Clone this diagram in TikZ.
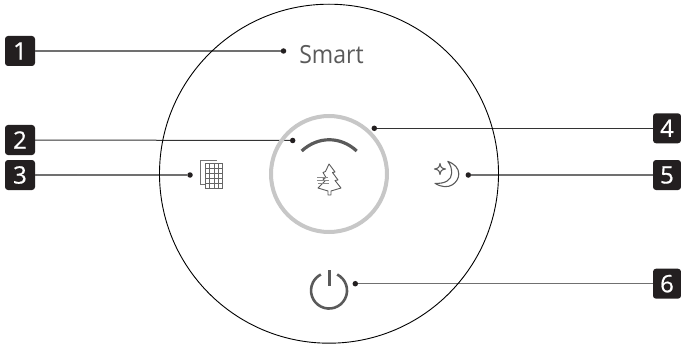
\documentclass[tikz,border=0pt]{standalone}
\usepackage{fontspec}
\setmainfont{Open Sans}
\newfontface\digitface[FakeBold=0.6]{Open Sans}
\definecolor{badgeblack}{HTML}{231F20}
\definecolor{icon}{HTML}{5A5A5A}
\definecolor{leaderdark}{HTML}{333333}
\definecolor{leadergray}{HTML}{707070}
\tikzset{
  badge/.style={fill=badgeblack,rounded corners=3pt,minimum height=30pt,minimum width=30pt,inner sep=0pt,text=white,font=\digitface\fontsize{24}{24}\selectfont},
  rbadge/.style={badge,minimum width=28pt},
  dotmark/.style={circle,fill=badgeblack,minimum size=5.5pt,inner sep=0pt},
  leaderd/.style={draw=leaderdark,line width=1pt},
  leaderg/.style={draw=leadergray,line width=1.3pt},
  iconline/.style={draw=icon,line width=1.1pt,line join=round},
}
\begin{document}
\begin{tikzpicture}[x=1pt,y=-1pt]
\useasboundingbox (0,0) rectangle (681,345);
% badges
\node[badge] (b1) at (20,51) {1};
\node[badge] (b2) at (20,140) {2};
\node[badge] (b3) at (20,175) {3};
\node[rbadge] (b4) at (667,128.3) {4};
\node[rbadge] (b5) at (667,175) {5};
\node[rbadge] (b6) at (667,283.7) {6};
% dots
\node[dotmark] (d1) at (283.5,51) {};
\node[dotmark] (d2) at (292.7,140.5) {};
\node[dotmark] (d3) at (190,175) {};
\node[dotmark] (d4) at (374.3,128.3) {};
\node[dotmark] (d5) at (468.3,175) {};
\node[dotmark] (d6) at (355.3,283.7) {};
\draw[leaderg] (b1) -- (d1);
\draw[leaderd] (b2) -- (d2);
\draw[leaderg] (b3) -- (d3);
\draw[leaderd] (b4) -- (d4);
\draw[leaderg] (b5) -- (d5);
\draw[leaderg] (b6) -- (d6);
% circles
\draw[black,line width=0.9pt] (329,173.7) circle[radius=169.5];
\draw[draw=black!22,line width=4pt] (329,174) circle[radius=58];
% text
\node[text=icon,font=\fontsize{25}{25}\selectfont,inner sep=0pt,anchor=base,xscale=0.92] (smart) at (331.5,64) {Smart};
% arc
\draw[draw=icon,line width=3.2pt] (301.7,151) .. controls (318,136) and (340.5,136) .. (356.7,151);
% tree
\draw[iconline,line width=0.9pt] (329,164) -- (335,172) -- (332.5,172.5) -- (338,180) -- (335,180.5) -- (341,188) -- (331,191) -- (331,195) -- (328,195) -- (328,191) -- (318,188) -- (325,181) -- (323,179) -- (326,177.5) -- (323,172.5) -- (325.5,171.5) -- cycle;
\foreach \yy/\xa/\xb in {177/317/328,180/317/329,183/318/329}
  \draw[draw=black!45,line width=0.6pt] (\xa,\yy) -- (\xb,\yy);
% grid icon
\draw[draw=black!55,line width=0.9pt] (216.5,160.3) -- (200,160.3) -- (200,184.3) -- (205.3,184.3);
\draw[draw=black!60,line width=0.9pt] (205.3,163.5) rectangle (222.7,188);
\foreach \xx in {209.6,214,218.4} \draw[draw=black!60,line width=0.8pt] (\xx,163.5) -- (\xx,188);
\foreach \yy in {168.4,173.3,178.2,183.1} \draw[draw=black!60,line width=0.8pt] (205.3,\yy) -- (222.7,\yy);
% moon
\draw[iconline] (447.7,161.3) .. controls (455,164) and (458.8,168.5) .. (458.8,174) .. controls (458.8,182) and (449,192) .. (435,183.3) .. controls (445,184) and (451.7,180) .. (451.7,173) .. controls (451.7,168.5) and (450.5,164.5) .. (447.7,161.3) -- cycle;
\draw[iconline] (440,163.5) .. controls (440.5,167) and (441.5,168.5) .. (445.5,169) .. controls (441.5,169.5) and (440.5,171) .. (440,174.5) .. controls (439.5,171) and (438.5,169.5) .. (434.5,169) .. controls (438.5,168.5) and (439.5,167) .. (440,163.5) -- cycle;
% power
\draw[draw=icon,line width=2.6pt] (337.2,274.5) arc[start angle=-63,end angle=243,radius=18];
\draw[draw=icon,line width=2.8pt] (329.3,270) -- (329.3,285.7);
\end{tikzpicture}
\end{document}
